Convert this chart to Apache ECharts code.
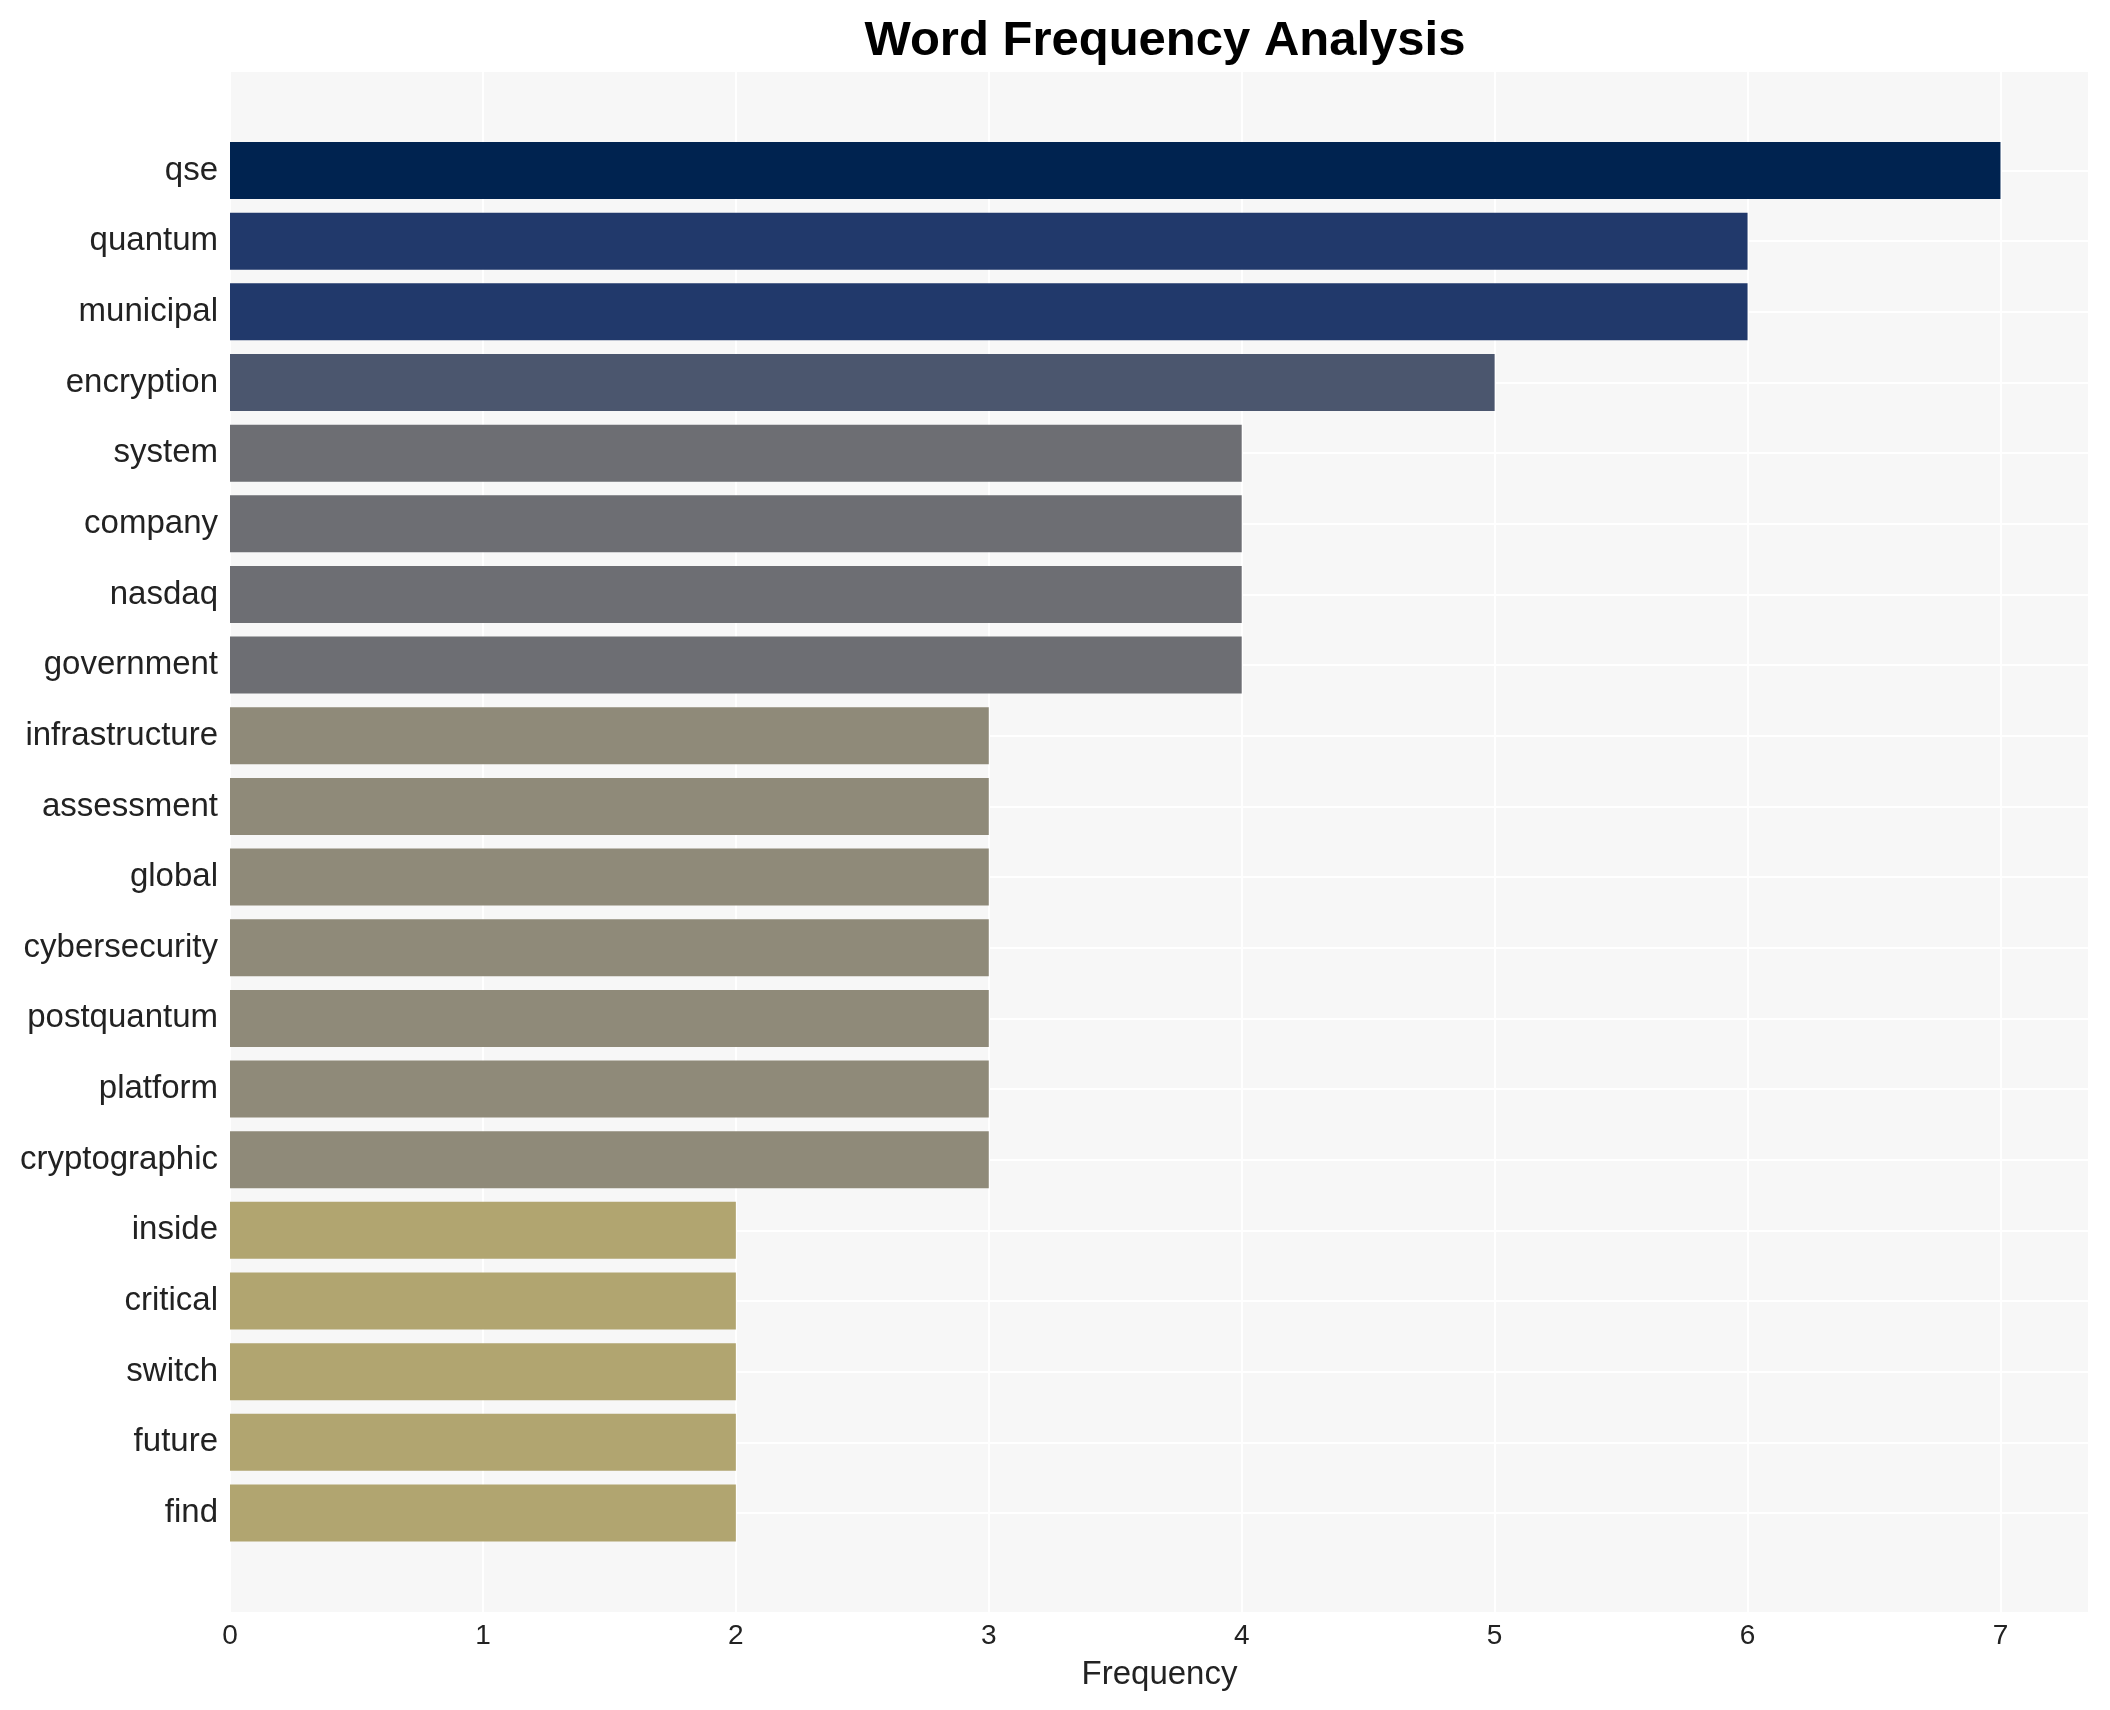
<!DOCTYPE html>
<html>
<head>
<meta charset="utf-8">
<script src="https://cdn.jsdelivr.net/npm/echarts@6/dist/echarts.min.js"></script>
<style>
  html, body { margin: 0; padding: 0; background: #ffffff; }
  #chart { width: 2110px; height: 1710px; }
</style>
</head>
<body>
<div id="chart"></div>
<script>
// ---- data ----
const categories = ["qse", "quantum", "municipal", "encryption", "system", "company", "nasdaq", "government",
  "infrastructure", "assessment", "global", "cybersecurity", "postquantum", "platform", "cryptographic",
  "inside", "critical", "switch", "future", "find"];
const frequencies = [7, 6, 6, 5, 4, 4, 4, 4, 3, 3, 3, 3, 3, 3, 3, 2, 2, 2, 2, 2];
const xTicks = [0, 1, 2, 3, 4, 5, 6, 7];

// ---- style ----
const colorByValue = { 7: "#002350", 6: "#21396b", 5: "#4b566e", 4: "#6d6e73", 3: "#8f8a79", 2: "#b1a570" };
const FONT = "'Liberation Sans', Arial, Helvetica, sans-serif";
const TEXT = "#222222";
const X_MAX = 7.35;

const chart = echarts.init(document.getElementById("chart"), null, { renderer: "canvas" });

const option = {
  backgroundColor: "#ffffff",
  animation: false,
  title: {
    text: "Word Frequency Analysis",
    left: 1160,
    textAlign: "center",
    top: 12,
    textStyle: { fontFamily: FONT, fontSize: 49, fontWeight: "bold", color: "#000000" }
  },
  grid: [
    { left: 230, right: 21, top: 72, bottom: 98, show: true, backgroundColor: "#f7f7f7", borderWidth: 0 },
    { left: 230, right: 21, top: 170.5, bottom: 197, show: false }
  ],
  xAxis: [
    {
      gridIndex: 0, type: "value", min: 0, max: X_MAX, interval: 1,
      name: "Frequency", nameLocation: "middle", nameGap: 46,
      nameTextStyle: { fontFamily: FONT, fontSize: 33, color: TEXT },
      axisLine: { show: false }, axisTick: { show: false },
      axisLabel: {
        fontFamily: FONT, fontSize: 28, color: TEXT, margin: 10,
        showMaxLabel: false,
        formatter: function (v) { return xTicks.indexOf(v) >= 0 ? String(v) : ""; }
      },
      splitLine: { show: true, lineStyle: { color: "#ffffff", width: 2 } }
    },
    {
      gridIndex: 1, type: "value", min: 0, max: X_MAX, show: false,
      splitLine: { show: false }
    }
  ],
  yAxis: [
    {
      gridIndex: 0, type: "value", show: false, min: 0, max: 1, splitLine: { show: false }
    },
    {
      gridIndex: 1, type: "category", data: categories, inverse: true, boundaryGap: false,
      axisLine: { show: false }, axisTick: { show: false },
      axisLabel: { fontFamily: FONT, fontSize: 33, color: TEXT, margin: 12, interval: 0, padding: [6, 0, 0, 0] },
      splitLine: { show: true, lineStyle: { color: "#ffffff", width: 2 } }
    }
  ],
  series: [
    {
      type: "bar",
      xAxisIndex: 1, yAxisIndex: 1,
      barWidth: 57,
      clip: false,
      data: frequencies.map(function (v) { return { value: v, itemStyle: { color: colorByValue[v] } }; })
    }
  ]
};

chart.setOption(option);
</script>
</body>
</html>
